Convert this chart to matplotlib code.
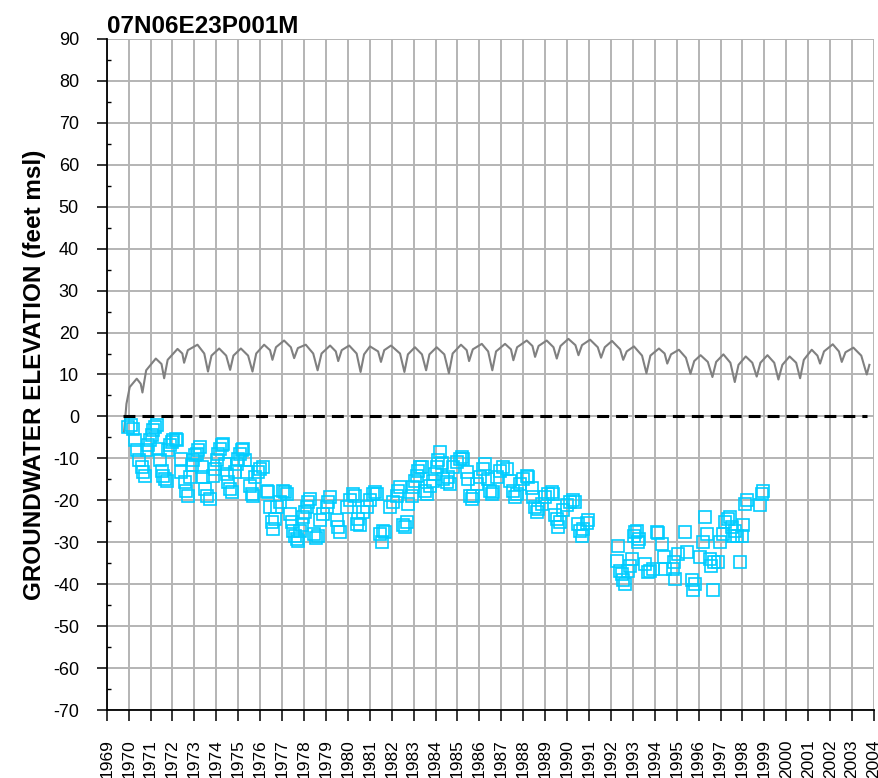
import matplotlib
matplotlib.use('Agg')
import matplotlib.pyplot as plt
import numpy as np

plt.rcParams['font.family'] = ['Liberation Sans', 'DejaVu Sans']
plt.rcParams['axes.unicode_minus'] = False

well_name = '07N06E23P001M'

# simulated groundwater elevation (gray line), decimal year / feet msl
sim_year = [1969.79, 1969.90, 1970.05, 1970.37, 1970.55, 1970.63, 1970.80, 1971.24, 1971.50, 1971.62,
            1971.78, 1972.23, 1972.45, 1972.53, 1972.70, 1973.14, 1973.45, 1973.62, 1973.78, 1974.13,
            1974.45, 1974.63, 1974.78, 1975.12, 1975.45, 1975.65, 1975.82, 1976.18, 1976.45, 1976.56,
            1976.72, 1977.09, 1977.40, 1977.55, 1977.72, 1978.08, 1978.42, 1978.62, 1978.80, 1979.19,
            1979.45, 1979.56, 1979.72, 1980.06, 1980.40, 1980.58, 1980.74, 1981.01, 1981.38, 1981.51,
            1981.66, 1981.97, 1982.38, 1982.58, 1982.74, 1983.06, 1983.38, 1983.57, 1983.72, 1984.05,
            1984.40, 1984.61, 1984.78, 1985.16, 1985.42, 1985.53, 1985.70, 1986.11, 1986.40, 1986.59,
            1986.76, 1987.17, 1987.44, 1987.55, 1987.72, 1988.16, 1988.42, 1988.54, 1988.70, 1989.07,
            1989.38, 1989.53, 1989.70, 1990.06, 1990.38, 1990.52, 1990.68, 1991.05, 1991.40, 1991.55,
            1991.72, 1992.05, 1992.42, 1992.56, 1992.72, 1993.05, 1993.42, 1993.62, 1993.80, 1994.19,
            1994.45, 1994.57, 1994.74, 1995.10, 1995.42, 1995.63, 1995.80, 1996.09, 1996.42, 1996.63,
            1996.80, 1997.13, 1997.45, 1997.65, 1997.82, 1998.15, 1998.45, 1998.65, 1998.82, 1999.14,
            1999.45, 1999.64, 1999.82, 2000.15, 2000.45, 2000.63, 2000.80, 2001.16, 2001.42, 2001.54,
            2001.72, 2002.12, 2002.40, 2002.53, 2002.70, 2003.06, 2003.42, 2003.67, 2003.79]
sim_elev = [-3.7, 3.0, 7.0, 9.0, 7.8, 5.7, 11.0, 13.8, 12.5, 9.1,
            13.5, 16.1, 15.0, 12.8, 15.8, 17.1, 15.0, 10.7, 14.5, 16.2,
            14.5, 11.1, 14.5, 16.2, 14.5, 10.7, 15.0, 17.1, 15.8, 13.5,
            16.5, 18.1, 16.5, 13.9, 16.3, 17.1, 15.0, 11.0, 15.0, 16.9,
            15.5, 13.2, 15.8, 16.9, 15.0, 10.6, 14.8, 16.7, 15.5, 13.0,
            15.8, 16.9, 15.0, 10.6, 14.8, 16.5, 14.8, 11.0, 14.8, 16.5,
            14.8, 10.3, 15.0, 17.1, 15.8, 13.2, 16.0, 17.3, 15.5, 11.0,
            15.5, 17.3, 16.0, 13.4, 16.5, 18.1, 16.8, 14.2, 16.8, 18.1,
            16.5, 13.8, 16.8, 18.5, 17.0, 14.6, 17.0, 18.3, 16.5, 14.0,
            16.5, 18.0, 16.0, 13.5, 15.5, 16.7, 14.5, 10.3, 14.5, 16.2,
            15.0, 12.6, 14.8, 15.9, 14.0, 10.2, 13.2, 14.6, 13.0, 9.4,
            13.0, 14.8, 12.8, 8.2, 12.3, 14.3, 12.8, 9.5, 12.8, 14.6,
            12.8, 8.8, 12.3, 14.3, 12.8, 9.1, 13.5, 15.9, 14.5, 12.6,
            15.5, 17.2, 15.5, 13.0, 15.3, 16.4, 14.5, 10.0, 12.3]

# observed groundwater elevation (cyan squares)
obs_year = [1969.98, 1970.13, 1970.21, 1970.28, 1970.36, 1970.48, 1970.59, 1970.66, 1970.74, 1970.82,
            1970.90, 1970.98, 1971.05, 1971.13, 1971.20, 1971.28, 1971.35, 1971.43, 1971.51, 1971.58,
            1971.66, 1971.74, 1971.81, 1971.89, 1971.96, 1972.04, 1972.16, 1972.22, 1972.38, 1972.40,
            1972.55, 1972.63, 1972.70, 1972.80, 1972.87, 1972.95, 1973.03, 1973.10, 1973.18, 1973.26,
            1973.33, 1973.40, 1973.48, 1973.56, 1973.71, 1973.86, 1973.94, 1974.02, 1974.09, 1974.17,
            1974.25, 1974.32, 1974.40, 1974.47, 1974.55, 1974.62, 1974.70, 1974.85, 1974.93, 1975.00,
            1975.08, 1975.16, 1975.23, 1975.31, 1975.39, 1975.54, 1975.62, 1975.69, 1975.77, 1975.92,
            1976.00, 1976.14, 1976.30, 1976.37, 1976.45, 1976.52, 1976.60, 1976.68, 1976.76, 1976.91,
            1977.06, 1977.14, 1977.21, 1977.36, 1977.44, 1977.51, 1977.59, 1977.67, 1977.74, 1977.82,
            1977.90, 1977.97, 1978.05, 1978.12, 1978.20, 1978.27, 1978.45, 1978.55, 1978.65, 1978.73,
            1978.88, 1979.04, 1979.11, 1979.19, 1979.49, 1979.57, 1979.64, 1979.95, 1980.10, 1980.25,
            1980.33, 1980.40, 1980.48, 1980.56, 1980.71, 1980.86, 1981.01, 1981.16, 1981.24, 1981.32,
            1981.47, 1981.55, 1981.62, 1981.70, 1981.92, 1982.07, 1982.23, 1982.30, 1982.38, 1982.53,
            1982.60, 1982.68, 1982.76, 1982.91, 1982.99, 1983.06, 1983.14, 1983.21, 1983.29, 1983.36,
            1983.51, 1983.60, 1983.75, 1983.90, 1983.98, 1984.06, 1984.13, 1984.20, 1984.28, 1984.36,
            1984.51, 1984.58, 1984.66, 1984.81, 1984.97, 1985.12, 1985.20, 1985.27, 1985.42, 1985.50,
            1985.57, 1985.65, 1985.72, 1985.88, 1986.03, 1986.18, 1986.26, 1986.41, 1986.49, 1986.56,
            1986.64, 1986.79, 1986.94, 1987.09, 1987.25, 1987.40, 1987.55, 1987.63, 1987.70, 1987.85,
            1988.00, 1988.16, 1988.23, 1988.38, 1988.46, 1988.54, 1988.62, 1988.69, 1988.85, 1989.00,
            1989.15, 1989.30, 1989.38, 1989.45, 1989.53, 1989.60, 1989.68, 1989.83, 1989.98, 1990.13,
            1990.29, 1990.36, 1990.51, 1990.59, 1990.67, 1990.74, 1990.90, 1990.97,
            1992.27, 1992.34, 1992.42, 1992.50, 1992.57, 1992.65, 1992.80, 1992.87, 1992.95, 1993.03,
            1993.10, 1993.18, 1993.25, 1993.30, 1993.55, 1993.70, 1993.78, 1993.90, 1994.09, 1994.17,
            1994.32, 1994.40, 1994.47, 1994.85, 1994.90, 1994.93, 1995.08, 1995.39, 1995.46, 1995.69,
            1995.76, 1995.84, 1996.07, 1996.22, 1996.30, 1996.37, 1996.50, 1996.57, 1996.65, 1996.72,
            1996.90, 1996.97, 1997.13, 1997.20, 1997.36, 1997.44, 1997.51, 1997.59, 1997.67, 1997.74,
            1997.90, 1997.97, 1998.04, 1998.12, 1998.20, 1998.80, 1998.88, 1998.95]
obs_elev = [-2.6, -2.1, -2.9, -5.7, -8.1, -10.5, -12.1, -13.3, -14.1, -8.1,
            -6.9, -5.7, -4.5, -3.3, -2.6, -2.1, -7.7, -10.5, -12.9, -14.1,
            -14.9, -15.3, -8.1, -6.9, -6.1, -5.7, -5.3, -5.7, -10.1, -13.3,
            -15.7, -17.7, -18.9, -14.5, -11.7, -10.5, -9.3, -8.9, -8.1, -7.3,
            -12.1, -14.5, -17.3, -18.9, -19.6, -14.1, -12.5, -10.5, -8.9, -7.7,
            -6.9, -6.5, -11.3, -13.7, -15.7, -17.3, -18.1, -13.3, -11.3, -10.1,
            -8.9, -8.1, -7.7, -10.5, -13.3, -16.5, -18.4, -18.9, -14.5, -13.3,
            -12.5, -12.1, -17.7, -18.1, -21.6, -25.2, -26.8, -24.4, -21.6, -20.5,
            -17.7, -18.1, -18.4, -23.2, -25.2, -27.2, -28.4, -29.2, -29.6, -27.2,
            -26.0, -24.0, -22.8, -21.6, -20.5, -19.6, -28.0, -29.0, -28.5, -24.8,
            -23.2, -21.6, -20.5, -19.3, -24.8, -26.4, -27.6, -21.6, -20.0, -18.4,
            -18.9, -25.6, -24.4, -26.0, -22.8, -21.6, -20.0, -18.4, -18.1, -18.6,
            -28.0, -30.0, -27.2, -27.6, -21.6, -20.5, -18.9, -17.7, -16.9, -26.0,
            -26.4, -25.2, -20.8, -18.9, -16.9, -15.3, -14.1, -12.9, -12.1, -12.0,
            -17.7, -18.4, -16.5, -15.3, -13.7, -12.1, -10.5, -8.5, -11.0, -14.9,
            -15.7, -14.5, -16.1, -12.1, -10.9, -10.1, -9.7, -10.1, -13.3, -14.9,
            -18.9, -19.6, -18.9, -16.1, -14.5, -12.5, -11.3, -15.0, -17.7, -18.4,
            -18.1, -14.5, -12.9, -12.1, -12.5, -15.3, -17.7, -19.3, -18.4, -16.1,
            -14.9, -14.1, -14.5, -17.0, -19.3, -21.6, -22.8, -22.0, -20.8, -19.3,
            -18.4, -18.1, -18.4, -23.6, -24.4, -26.4, -25.2, -22.4, -21.2, -20.5,
            -20.0, -20.5, -25.6, -27.2, -28.4, -26.8, -25.5, -24.8,
            -34.4, -30.8, -36.8, -37.5, -39.1, -39.9, -36.8, -35.6, -34.0, -28.4,
            -27.6, -27.2, -30.0, -29.2, -35.2, -37.2, -36.8, -36.3, -27.6, -27.9,
            -30.4, -33.6, -36.3, -36.3, -34.8, -38.7, -32.8, -27.6, -32.4, -39.1,
            -41.5, -39.9, -33.6, -30.0, -24.0, -28.0, -34.0, -35.6, -41.5, -34.8,
            -34.8, -30.0, -28.0, -25.2, -24.4, -24.0, -26.4, -28.4, -27.2, -28.4,
            -34.8, -28.4, -26.0, -20.8, -20.0, -21.2, -18.4, -17.7]

# reference line at 0 ft
ref_year = [1969.75, 2003.7]
ref_elev = [0, 0]

year_ticks = list(range(1969, 2005))
elev_ticks = list(range(-70, 91, 10))

fig = plt.figure(figsize=(8.79, 7.78), dpi=100)
ax = fig.add_axes([0.1214, 0.0874, 0.8729, 0.8625])

ax.plot(sim_year, sim_elev, color='#808080', lw=1.5, zorder=3)
ax.plot(ref_year, ref_elev, color='black', lw=2.2, dashes=(3.9, 2.3), zorder=4)
ax.plot(obs_year, obs_elev, ls='none', marker='s', ms=8.8, mfc='none',
        mec='#00CCFF', mew=1.2, zorder=5)

ax.set_xlim(1969, 2004)
ax.set_ylim(-70, 90)
ax.set_xticks(year_ticks)
ax.set_xticklabels([str(y) for y in year_ticks], rotation=90, fontsize=12.5)
ax.set_yticks(elev_ticks)
ax.set_yticks(list(range(-65, 90, 10)), minor=True)
ax.tick_params(axis='y', which='major', direction='out', length=7, width=1.1,
               labelsize=13, pad=13)
ax.tick_params(axis='y', which='minor', direction='in', length=3, width=1)
ax.tick_params(axis='x', which='major', direction='out', length=8, width=1.1, pad=13)

ax.grid(True, color='#b4b4b4', lw=1.4)
ax.set_axisbelow(True)

for s in ['top', 'right']:
    ax.spines[s].set_visible(False)
for s in ['left', 'bottom']:
    ax.spines[s].set_linewidth(1.3)
    ax.spines[s].set_zorder(6)

ax.set_ylabel('GROUNDWATER ELEVATION (feet msl)', fontsize=17.5, fontweight='bold', labelpad=5)
ax.set_title(well_name, loc='left', fontsize=17.5, fontweight='bold', pad=4)

plt.savefig('out.png', dpi=100)
